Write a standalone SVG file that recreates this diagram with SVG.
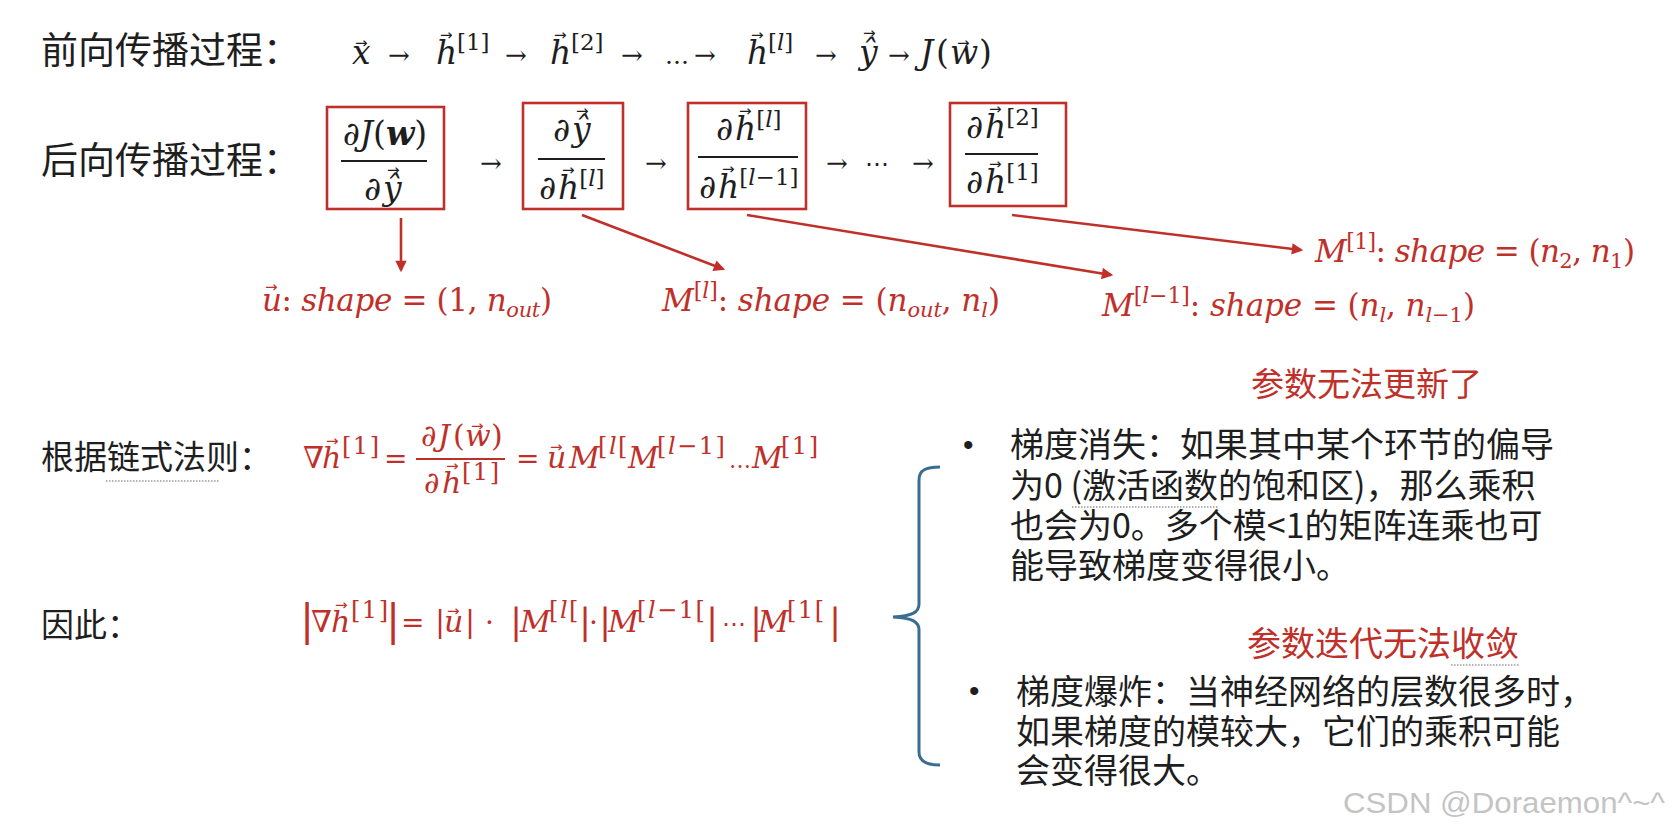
<svg xmlns="http://www.w3.org/2000/svg" width="1674" height="834" viewBox="0 0 1674 834">
<defs>
<style>
.cjk{font-family:"Noto Sans CJK SC","Noto Sans",sans-serif;fill:#1e1e1e}
.m{font-family:"DejaVu Serif",serif;font-style:italic}
.u{font-family:"DejaVu Serif",serif;font-style:normal}
.v{font-family:"DejaVu Sans",sans-serif;font-style:normal;font-size:15px}
.k{fill:#1e1e1e}
.r{fill:#c0302a}
.sp{letter-spacing:1.5px}
.box{fill:none;stroke:#c0302a;stroke-width:2.6}
.bar{stroke:#1e1e1e;stroke-width:2}
.rbar{stroke:#c0302a;stroke-width:1.8}
.con{stroke:#c0302a;stroke-width:2.6;fill:none;marker-end:url(#ah)}
.dot{stroke:#9a9a9a;stroke-width:1.5;stroke-dasharray:1.5 1.5}
.bul{font-family:"Liberation Sans",Arial,sans-serif;font-size:30px;fill:#1e1e1e}
</style>
<marker id="ah" viewBox="0 0 10 10" refX="8" refY="5" markerWidth="5" markerHeight="4.4" orient="auto" markerUnits="strokeWidth"><path d="M0,0 L10,5 L0,10 z" fill="#c0302a"/></marker>
</defs>
<rect width="1674" height="834" fill="#ffffff"/>

<g id="forward">
<text class="cjk" x="41" y="64" font-size="37">前向传播过程：</text>
<g class="k">
<text class="m" x="352" y="64" font-size="33">x</text><text class="v" x="355" y="48">→</text>
<text class="u" x="388" y="64" font-size="26">→</text>
<text class="m" x="436" y="64" font-size="33">h</text><text class="v" x="440" y="40">→</text><text class="u" x="457" y="50" font-size="23">[1]</text>
<text class="u" x="505" y="64" font-size="26">→</text>
<text class="m" x="550" y="64" font-size="33">h</text><text class="v" x="554" y="40">→</text><text class="u" x="571" y="50" font-size="23">[2]</text>
<text class="u" x="621" y="64" font-size="26">→</text>
<text class="u" x="665" y="64" font-size="24">…</text>
<text class="u" x="694" y="64" font-size="26">→</text>
<text class="m" x="747" y="64" font-size="33">h</text><text class="v" x="751" y="40">→</text><text x="768" y="50" font-size="23"><tspan class="u">[</tspan><tspan class="m">l</tspan><tspan class="u">]</tspan></text>
<text class="u" x="815" y="64" font-size="26">→</text>
<text class="m" x="859" y="64" font-size="33">ŷ</text><text class="v" x="863" y="38">→</text>
<text class="u" x="888" y="64" font-size="26">→</text>
<text class="m" x="920" y="64" font-size="33">J</text><text class="u" x="936" y="64" font-size="33">(</text><text class="m" x="950" y="64" font-size="33">w</text><text class="v" x="957" y="48">→</text><text class="u" x="979" y="64" font-size="33">)</text>
</g>
</g>

<g id="backward-label">
<text class="cjk" x="41" y="174" font-size="37">后向传播过程：</text>
</g>

<g id="box-dJdy">
<rect class="box" x="327" y="107" width="117" height="102"/>
<text class="k" x="385" y="145" font-size="33" text-anchor="middle"><tspan class="m">∂J</tspan><tspan class="u">(</tspan><tspan class="m" font-weight="bold">w</tspan><tspan class="u">)</tspan></text>
<line class="bar" x1="341" y1="161" x2="427" y2="161"/>
<text class="k" font-size="33"><tspan class="m" x="364" y="200">∂</tspan><tspan class="m" x="383" y="200">ŷ</tspan></text>
<text class="v k" x="387" y="175">→</text>
</g>

<g id="box-dydh">
<rect class="box" x="523" y="103" width="100" height="106"/>
<text class="k" font-size="33"><tspan class="m" x="553" y="141">∂</tspan><tspan class="m" x="572" y="141">ŷ</tspan></text>
<text class="v k" x="576" y="116">→</text>
<line class="bar" x1="538" y1="159" x2="605" y2="159"/>
<text class="k" font-size="33"><tspan class="m" x="539" y="199">∂</tspan><tspan class="m" x="558" y="199">h</tspan><tspan class="u" font-size="23" dy="-13">[</tspan><tspan class="m" font-size="23">l</tspan><tspan class="u" font-size="23">]</tspan></text>
<text class="v k" x="562" y="175">→</text>
</g>

<g id="box-dhdh">
<rect class="box" x="688" y="103" width="118" height="106"/>
<text class="k" font-size="33"><tspan class="m" x="716" y="140">∂</tspan><tspan class="m" x="735" y="140">h</tspan><tspan class="u" font-size="23" dy="-13">[</tspan><tspan class="m" font-size="23">l</tspan><tspan class="u" font-size="23">]</tspan></text>
<text class="v k" x="739" y="116">→</text>
<line class="bar" x1="698" y1="157" x2="798" y2="157"/>
<text class="k" font-size="33"><tspan class="m" x="699" y="198">∂</tspan><tspan class="m" x="718" y="198">h</tspan><tspan class="u" font-size="23" dy="-13">[</tspan><tspan class="m" font-size="23">l</tspan><tspan class="u" font-size="23">−1]</tspan></text>
<text class="v k" x="722" y="174">→</text>
</g>

<g id="box-dh2dh1">
<rect class="box" x="950" y="103" width="116" height="103"/>
<text class="k" font-size="33"><tspan class="m" x="966" y="138">∂</tspan><tspan class="m" x="985" y="138">h</tspan><tspan class="u" font-size="23" dy="-13">[2]</tspan></text>
<text class="v k" x="989" y="114">→</text>
<line class="bar" x1="965" y1="154" x2="1038" y2="154"/>
<text class="k" font-size="33"><tspan class="m" x="966" y="193">∂</tspan><tspan class="m" x="985" y="193">h</tspan><tspan class="u" font-size="23" dy="-13">[1]</tspan></text>
<text class="v k" x="989" y="169">→</text>
</g>

<g id="backward-chain" class="k">
<text class="u" x="480" y="172" font-size="26">→</text>
<text class="u" x="645" y="172" font-size="26">→</text>
<text class="u" x="826" y="172" font-size="26">→</text>
<text class="u" x="865" y="172" font-size="24">⋯</text>
<text class="u" x="912" y="172" font-size="26">→</text>
</g>

<g id="connectors">
<line class="con" x1="401" y1="218" x2="401" y2="270"/>
<line class="con" x1="582" y1="215" x2="723" y2="269"/>
<line class="con" x1="747" y1="215" x2="1111" y2="275"/>
<line class="con" x1="1012" y1="215" x2="1301" y2="250"/>
</g>

<g id="label-u">
<text class="r" x="262" y="311" font-size="31" textLength="290" lengthAdjust="spacing"><tspan class="m">u</tspan><tspan class="u">: </tspan><tspan class="m">shape</tspan><tspan class="u"> = (1, </tspan><tspan class="m">n</tspan><tspan class="m" font-size="21" dy="6">out</tspan><tspan class="u" dy="-6">)</tspan></text>
<text class="v r" x="265" y="292">→</text>
</g>
<g id="label-Ml">
<text class="r" x="662" y="311" font-size="31" textLength="338" lengthAdjust="spacing"><tspan class="m">M</tspan><tspan class="u" font-size="22" dy="-13">[</tspan><tspan class="m" font-size="22">l</tspan><tspan class="u" font-size="22">]</tspan><tspan class="u" dy="13">: </tspan><tspan class="m">shape</tspan><tspan class="u"> = (</tspan><tspan class="m">n</tspan><tspan class="m" font-size="21" dy="6">out</tspan><tspan class="u" dy="-6">, </tspan><tspan class="m">n</tspan><tspan class="m" font-size="21" dy="6">l</tspan><tspan class="u" dy="-6">)</tspan></text>
</g>
<g id="label-Ml1">
<text class="r" x="1102" y="316" font-size="31" textLength="373" lengthAdjust="spacing"><tspan class="m">M</tspan><tspan class="u" font-size="22" dy="-13">[</tspan><tspan class="m" font-size="22">l</tspan><tspan class="u" font-size="22">−1]</tspan><tspan class="u" dy="13">: </tspan><tspan class="m">shape</tspan><tspan class="u"> = (</tspan><tspan class="m">n</tspan><tspan class="m" font-size="21" dy="6">l</tspan><tspan class="u" dy="-6">, </tspan><tspan class="m">n</tspan><tspan class="m" font-size="21" dy="6">l</tspan><tspan class="u" font-size="21">−1</tspan><tspan class="u" dy="-6">)</tspan></text>
</g>
<g id="label-M1">
<text class="r" x="1315" y="262" font-size="31" textLength="320" lengthAdjust="spacing"><tspan class="m">M</tspan><tspan class="u" font-size="22" dy="-13">[1]</tspan><tspan class="u" dy="13">: </tspan><tspan class="m">shape</tspan><tspan class="u"> = (</tspan><tspan class="m">n</tspan><tspan class="u" font-size="21" dy="6">2</tspan><tspan class="u" dy="-6">, </tspan><tspan class="m">n</tspan><tspan class="u" font-size="21" dy="6">1</tspan><tspan class="u" dy="-6">)</tspan></text>
</g>

<g id="chain-rule">
<text class="cjk" x="41" y="469" font-size="33">根据链式法则：</text>
<line class="dot" x1="106" y1="481" x2="220" y2="481"/>
<g class="r">
<text class="u" x="303" y="468" font-size="30">∇</text>
<text class="m" x="322" y="468" font-size="30">h</text><text class="v" x="326" y="446">→</text>
<text class="u sp" x="342" y="454" font-size="24">[1]</text>
<text class="u" x="384" y="468" font-size="28">=</text>
<text class="m" x="421" y="446" font-size="30">∂</text><text class="m" x="438" y="446" font-size="30">J</text><text class="u" x="453" y="446" font-size="30">(</text><text class="m" x="465" y="446" font-size="30">w</text><text class="v" x="471" y="431">→</text><text class="u" x="491" y="446" font-size="30">)</text>
<line class="rbar" x1="416" y1="459" x2="505" y2="459"/>
<text class="m" x="424" y="493" font-size="30">∂</text><text class="m" x="442" y="493" font-size="30">h</text><text class="v" x="446" y="471">→</text>
<text class="u sp" x="462" y="480" font-size="24">[1]</text>
<text class="u" x="516" y="468" font-size="28">=</text>
<text class="m" x="547" y="468" font-size="30">u</text><text class="v" x="550" y="452">→</text>
<text class="m" x="569" y="468" font-size="30">M</text>
<text class="sp" x="598" y="454" font-size="24"><tspan class="u">[</tspan><tspan class="m">l</tspan><tspan class="u">[</tspan></text>
<text class="m" x="628" y="468" font-size="30">M</text>
<text class="sp" x="657" y="454" font-size="24"><tspan class="u">[</tspan><tspan class="m">l</tspan><tspan class="u">−1]</tspan></text>
<text class="u" x="729" y="468" font-size="22">…</text>
<text class="m" x="752" y="468" font-size="30">M</text>
<text class="u sp" x="781" y="454" font-size="24">[1]</text>
</g>
</g>

<g id="therefore">
<text class="cjk" x="41" y="637" font-size="33">因此：</text>
<g class="r">
<text class="u" x="300" y="635" font-size="42">|</text>
<text class="u" x="311" y="632" font-size="30">∇</text>
<text class="m" x="331" y="632" font-size="30">h</text><text class="v" x="335" y="610">→</text>
<text class="u sp" x="351" y="618" font-size="24">[1]</text>
<text class="u" x="386" y="635" font-size="42">|</text>
<text class="u" x="401" y="632" font-size="28">=</text>
<text class="u" x="435" y="632" font-size="30">|</text>
<text class="m" x="444" y="632" font-size="30">u</text><text class="v" x="447" y="616">→</text>
<text class="u" x="465" y="632" font-size="30">|</text>
<text class="u" x="485" y="632" font-size="28">·</text>
<text class="u" x="510" y="634" font-size="36">|</text>
<text class="m" x="520" y="632" font-size="30">M</text>
<text class="sp" x="549" y="618" font-size="24"><tspan class="u">[</tspan><tspan class="m">l</tspan><tspan class="u">[</tspan></text>
<text class="u" x="579" y="634" font-size="36">|</text>
<text class="u" x="589" y="632" font-size="28">·</text>
<text class="u" x="599" y="634" font-size="36">|</text>
<text class="m" x="608" y="632" font-size="30">M</text>
<text class="sp" x="637" y="618" font-size="24"><tspan class="u">[</tspan><tspan class="m">l</tspan><tspan class="u">−1[</tspan></text>
<text class="u" x="706" y="634" font-size="36">|</text>
<text class="u" x="722" y="632" font-size="24">⋯</text>
<text class="u" x="750" y="634" font-size="36">|</text>
<text class="m" x="758" y="632" font-size="30">M</text>
<text class="u sp" x="787" y="618" font-size="24">[1[</text>
<text class="u" x="829" y="634" font-size="36">|</text>
</g>
</g>

<g id="brace">
<path d="M940,467 C926,467 919,470 919,480 L919,604 C919,612 913,616 893,617 C913,618 919,622 919,630 L919,752 C919,761 926,765 940,765" fill="none" stroke="#3a6d8f" stroke-width="3"/>
</g>

<g id="vanishing">
<text class="cjk r" x="1251" y="396" font-size="33">参数无法更新了</text>
<text class="bul" x="963" y="455">•</text>
<text class="cjk" x="1010" y="457" font-size="34">梯度消失：如果其中某个环节的偏导</text>
<text class="cjk" x="1010" y="498" font-size="34">为0 (激活函数的饱和区)，那么乘积</text>
<line class="dot" x1="1072" y1="507" x2="1218" y2="507"/>
<text class="cjk" x="1010" y="538" font-size="34">也会为0。多个模&lt;1的矩阵连乘也可</text>
<text class="cjk" x="1010" y="578" font-size="34">能导致梯度变得很小。</text>
</g>

<g id="exploding">
<text class="cjk r" x="1247" y="656" font-size="34">参数迭代无法收敛</text>
<line class="dot" x1="1451" y1="665" x2="1519" y2="665"/>
<text class="bul" x="969" y="701">•</text>
<text class="cjk" x="1016" y="704" font-size="34">梯度爆炸：当神经网络的层数很多时，</text>
<text class="cjk" x="1016" y="744" font-size="34">如果梯度的模较大，它们的乘积可能</text>
<text class="cjk" x="1016" y="783" font-size="34">会变得很大。</text>
</g>

<g id="watermark">
<text x="1343" y="813" font-family="Liberation Sans, Arial, sans-serif" font-size="29" fill="#c4c4c4" textLength="322" lengthAdjust="spacingAndGlyphs">CSDN @Doraemon^~^</text>
</g>
</svg>
